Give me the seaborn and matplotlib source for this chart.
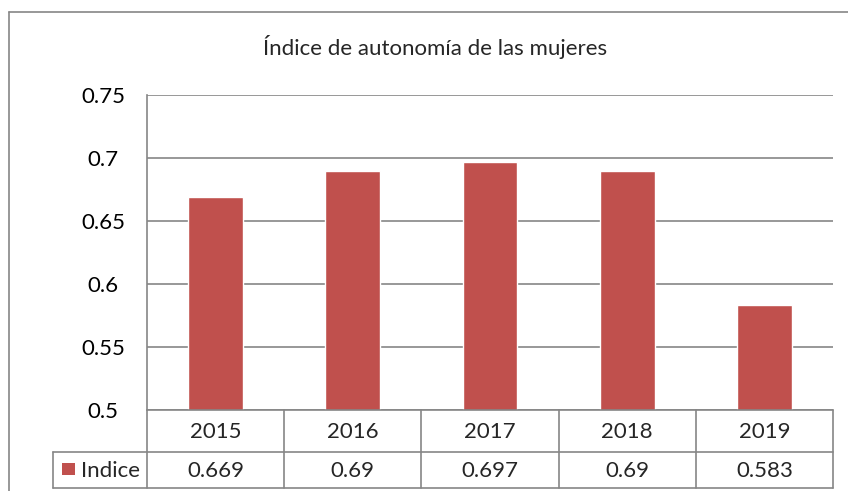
import matplotlib
matplotlib.use("Agg")
import matplotlib.pyplot as plt
from matplotlib.patches import Rectangle
from matplotlib.lines import Line2D
import pandas as pd
import seaborn as sns

YEARS = ["2015", "2016", "2017", "2018", "2019"]
VALUES = [0.669, 0.69, 0.697, 0.69, 0.583]
VALUE_LABELS = ["0.669", "0.69", "0.697", "0.69", "0.583"]
SERIES = "Indice"
TITLE = "Índice de autonomía de las mujeres"
Y_TICKS = [0.5, 0.55, 0.6, 0.65, 0.7, 0.75]
Y_TICK_LABELS = ["0.5", "0.55", "0.6", "0.65", "0.7", "0.75"]

BAR_COLOR = "#C0504D"
LINE_COLOR = "#868686"
FONT = ["Lato", "DejaVu Sans"]
FS = 16

W, H = 848, 491

sns.set_style("white")
plt.rcParams["font.family"] = FONT

df = pd.DataFrame({"year": YEARS, "value": VALUES})

fig = plt.figure(figsize=(W / 100, H / 100), dpi=100)

# plot area in pixel coordinates (left, top, right, bottom)
px_l, px_t, px_r, px_b = 147, 95, 833, 410
ax = fig.add_axes([px_l / W, 1 - px_b / H, (px_r - px_l) / W, (px_b - px_t) / H])

sns.barplot(data=df, x="year", y="value", color=BAR_COLOR, width=0.4,
            saturation=1, ax=ax)

ax.set_ylim(0.5, 0.75)
ax.set_xlim(-0.5, len(YEARS) - 0.5)
ax.set_yticks(Y_TICKS)
ax.set_yticklabels(Y_TICK_LABELS, fontsize=FS, color="black")
ax.set_xticks([])
ax.set_xlabel("")
ax.set_ylabel("")
# centre labels about 44 px left of the axis line
ax.tick_params(axis="y", length=0, pad=44 * 0.72)
for t in ax.get_yticklabels():
    t.set_horizontalalignment("center")
ax.yaxis.grid(True, color=LINE_COLOR, linewidth=1.2)
ax.set_axisbelow(True)
for side in ["top", "right", "bottom"]:
    ax.spines[side].set_visible(False)
ax.spines["left"].set_color(LINE_COLOR)
ax.spines["left"].set_linewidth(1.2)


def fx(px):
    return px / W


def fy(py):
    return 1 - py / H


def hline(x0, x1, y, lw=1.2):
    fig.add_artist(Line2D([fx(x0), fx(x1)], [fy(y), fy(y)], color=LINE_COLOR,
                          linewidth=lw, transform=fig.transFigure))


def vline(x, y0, y1, lw=1.2):
    fig.add_artist(Line2D([fx(x), fx(x)], [fy(y0), fy(y1)], color=LINE_COLOR,
                          linewidth=lw, transform=fig.transFigure))


# data table below the plot
row1_t, row2_t, row2_b = 410, 452, 488
col_w = (px_r - px_l) / len(YEARS)
hline(px_l, px_r, row1_t)
hline(53, px_r, row2_t)
hline(53, px_r, row2_b)
for i in range(len(YEARS) + 1):
    vline(px_l + i * col_w, row1_t, row2_b)
vline(53, row2_t, row2_b)

for i, (yr, lab) in enumerate(zip(YEARS, VALUE_LABELS)):
    cx = fx(px_l + (i + 0.5) * col_w)
    fig.text(cx, fy((row1_t + row2_t) / 2 + 1), yr, ha="center", va="center",
             fontsize=FS)
    fig.text(cx, fy((row2_t + row2_b) / 2 + 1), lab, ha="center", va="center",
             fontsize=FS)

# legend key inside the table
fig.add_artist(Rectangle((fx(62), fy(475)), fx(13), 12 / H,
                         facecolor=BAR_COLOR, edgecolor="none",
                         transform=fig.transFigure))
fig.text(fx(81), fy((row2_t + row2_b) / 2 + 1), SERIES, ha="left",
         va="center", fontsize=FS)

# chart outer border
hline(9, W, 12)
vline(9, 12, H)

fig.text(fx(435), fy(47), TITLE, ha="center", va="center", fontsize=FS)

fig.savefig("out.png", dpi=100)
